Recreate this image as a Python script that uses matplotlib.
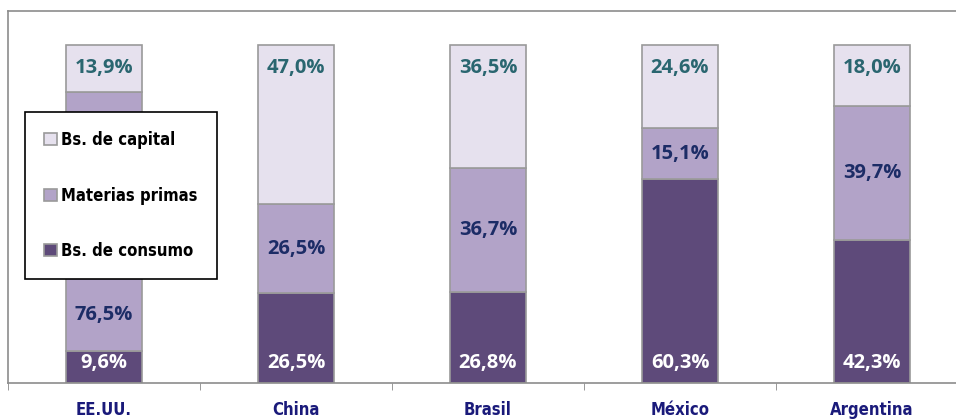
import matplotlib.pyplot as plt
import numpy as np

countries = ['EE.UU.', 'China', 'Brasil', 'México', 'Argentina']
consumo = [9.6, 26.5, 26.8, 60.3, 42.3]
materias = [76.5, 26.5, 36.7, 15.1, 39.7]
capital = [13.9, 47.0, 36.5, 24.6, 18.0]

c_consumo = '#5e4a7a'
c_materias = '#b2a3c8'
c_capital = '#e6e1ee'
edge = '#9a9a9a'

narrow = ['DejaVu Sans']
num_font = ['Open Sans', 'DejaVu Sans']

fig = plt.figure(figsize=(9.56, 4.19), dpi=100)
ax = fig.add_axes([8/956, 36/419, 960/956, 372/419])

x = np.arange(len(countries))
w = 0.40
b1 = ax.bar(x, consumo, w, color=c_consumo, edgecolor=edge, lw=1.2, label='Bs. de consumo')
b2 = ax.bar(x, materias, w, bottom=consumo, color=c_materias, edgecolor=edge, lw=1.2, label='Materias primas')
base = np.array(consumo) + np.array(materias)
b3 = ax.bar(x, capital, w, bottom=base, color=c_capital, edgecolor=edge, lw=1.2, label='Bs. de capital')

def fmt(v):
    return f'{v:.1f}%'.replace('.', ',')

for i in range(len(countries)):
    # consumo near bottom, capital near top, materias centred
    ax.text(x[i], 6.0, fmt(consumo[i]), ha='center', va='center', color='white',
            fontsize=14.5, fontweight='bold', family=num_font)
    ym = consumo[i] + materias[i] / 2
    if i == 0:
        ym = 20.0  # keep clear of the legend
    ax.text(x[i], ym, fmt(materias[i]), ha='center', va='center', color='#1c2c66',
            fontsize=14.5, fontweight='bold', family=num_font)
    ax.text(x[i], 93.0, fmt(capital[i]), ha='center', va='center', color='#2a6670',
            fontsize=14.5, fontweight='bold', family=num_font)

ax.set_xlim(-0.5, len(countries) - 0.5)
ax.set_ylim(0, 110)
ax.set_yticks([])
ax.set_xticks(x)
ax.set_xticklabels(countries, color='#1a1a7a', fontsize=12, fontweight='bold',
                   family=narrow, fontstretch='condensed')
ax.tick_params(axis='x', which='major', length=0, pad=13)
ax.set_xticks(np.arange(len(countries)) - 0.5, minor=True)
ax.tick_params(axis='x', which='minor', length=5, color='#888888', direction='out')

for s in ['left', 'bottom', 'top']:
    ax.spines[s].set_color('#8c8c8c')
    ax.spines[s].set_linewidth(1.2)
ax.spines['right'].set_visible(False)

leg = ax.legend(handles=[b3, b2, b1], loc='upper left', bbox_to_anchor=(17/960, 1 - 101/372),
                frameon=True, fancybox=False, edgecolor='black', framealpha=1,
                prop={'family': narrow, 'weight': 'bold', 'size': 12, 'stretch': 'condensed'},
                handlelength=0.75, handleheight=0.75, handletextpad=0.25,
                labelspacing=2.25, borderpad=1.15, borderaxespad=0)
leg.get_frame().set_linewidth(1.2)

fig.savefig('out.png', dpi=100)
